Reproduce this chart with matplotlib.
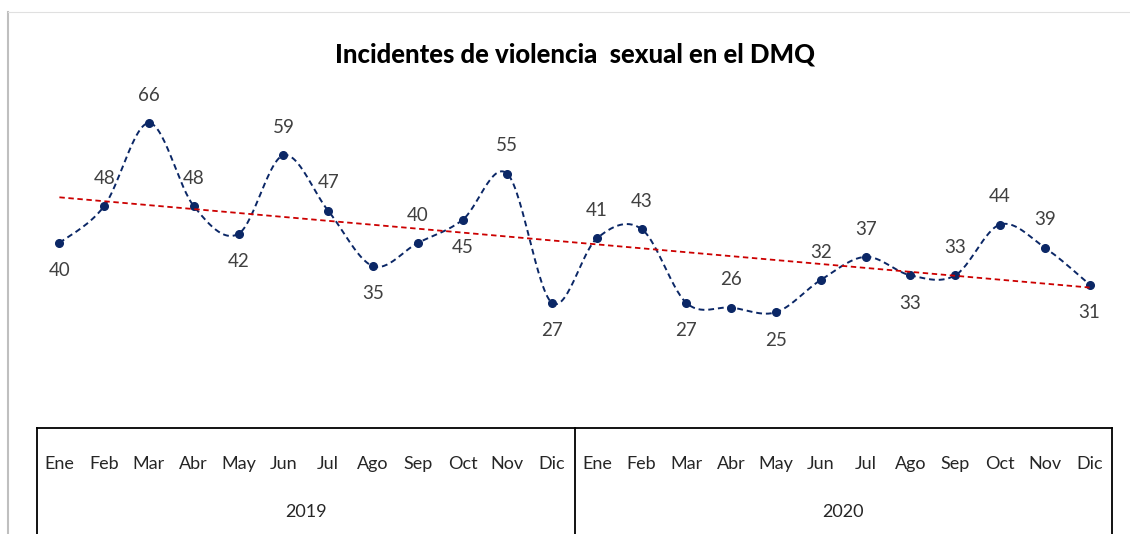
import numpy as np
import matplotlib
matplotlib.use("Agg")
import matplotlib.pyplot as plt
import matplotlib.transforms as mtransforms

plt.rcParams['font.family'] = ['Lato', 'DejaVu Sans']

meses = ["Ene", "Feb", "Mar", "Abr", "May", "Jun", "Jul", "Ago", "Sep", "Oct", "Nov", "Dic"]
anios = ["2019", "2020"]
casos_2019 = [40, 48, 66, 48, 42, 59, 47, 35, 40, 45, 55, 27]
casos_2020 = [41, 43, 27, 26, 25, 32, 37, 33, 33, 44, 39, 31]
# position of each data label: 1 above the point, -1 below
lado = [-1, 1, 1, 1, -1, 1, 1, -1, 1, -1, 1, -1,
        1, 1, -1, 1, -1, 1, 1, -1, 1, 1, 1, -1]

y = np.array(casos_2019 + casos_2020, dtype=float)
x = np.arange(len(y), dtype=float)

# excel-like smoothed line (cardinal bezier)
def suavizar(x, y, n=30):
    px, py = [], []
    for i in range(len(x) - 1):
        x0, y0 = x[max(i - 1, 0)], y[max(i - 1, 0)]
        x3, y3 = x[min(i + 2, len(x) - 1)], y[min(i + 2, len(x) - 1)]
        c1x = x[i] + (x[i + 1] - x0) / 6
        c1y = y[i] + (y[i + 1] - y0) / 6
        c2x = x[i + 1] - (x3 - x[i]) / 6
        c2y = y[i + 1] - (y3 - y[i]) / 6
        t = np.linspace(0, 1, n)
        bx = (1-t)**3*x[i] + 3*(1-t)**2*t*c1x + 3*(1-t)*t**2*c2x + t**3*x[i+1]
        by = (1-t)**3*y[i] + 3*(1-t)**2*t*c1y + 3*(1-t)*t**2*c2y + t**3*y[i+1]
        px.extend(bx)
        py.extend(by)
    return np.array(px), np.array(py)

fig = plt.figure(figsize=(11.3, 5.34), dpi=100)
ax = fig.add_axes([37/1130, 1 - 427.6/534, 1075/1130, 369.2/534])

sx, sy = suavizar(x, y)
azul = "#0b2766"
ax.plot(sx, sy, color=azul, lw=1.4, ls=(0, (3, 2)))
ax.plot(x, y, "o", color=azul, ms=5.5)

a, b = np.polyfit(x, y, 1)
ax.plot(x[[0, -1]], a * x[[0, -1]] + b, color="#cc0000", lw=1.3, ls=(0, (3, 2)))

for xi, yi, s in zip(x, y, lado):
    ax.annotate(f"{int(yi)}", (xi, yi), xytext=(0, 20 * s), textcoords="offset points",
                ha="center", va="center", fontsize=13.5, color="#404040")

ax.set_xlim(-0.5, 23.5)
ax.set_ylim(0, 80)
ax.axis("off")

# multi-level category axis
tr = mtransforms.blended_transform_factory(ax.transData, ax.transAxes)
ax.plot([-0.5, 23.5], [0, 0], color="black", lw=1.3, transform=tr, clip_on=False)
for xv in [-0.5, 11.5, 23.5]:
    ax.plot([xv, xv], [0, -0.35], color="black", lw=1.3, transform=tr, clip_on=False)
for i in range(24):
    ax.text(i, -0.0986, meses[i % 12], transform=tr, ha="center", va="center",
            fontsize=13, color="#262626")
for j, an in enumerate(anios):
    ax.text(5.5 + 12 * j, -0.229, an, transform=tr, ha="center", va="center",
            fontsize=13, color="#262626")

fig.text(575/1130, 1 - 55/534, "Incidentes de violencia  sexual en el DMQ",
         ha="center", va="center", fontsize=18.5, fontweight="black", color="black")

# chart border remnants
fig.add_artist(plt.Line2D([8/1130, 8/1130], [0, 1 - 12/534], color="#bfbfbf", lw=1.5))
fig.add_artist(plt.Line2D([8/1130, 1], [1 - 12/534, 1 - 12/534], color="#e0e0e0", lw=0.8))

fig.savefig("out.png", dpi=100)
